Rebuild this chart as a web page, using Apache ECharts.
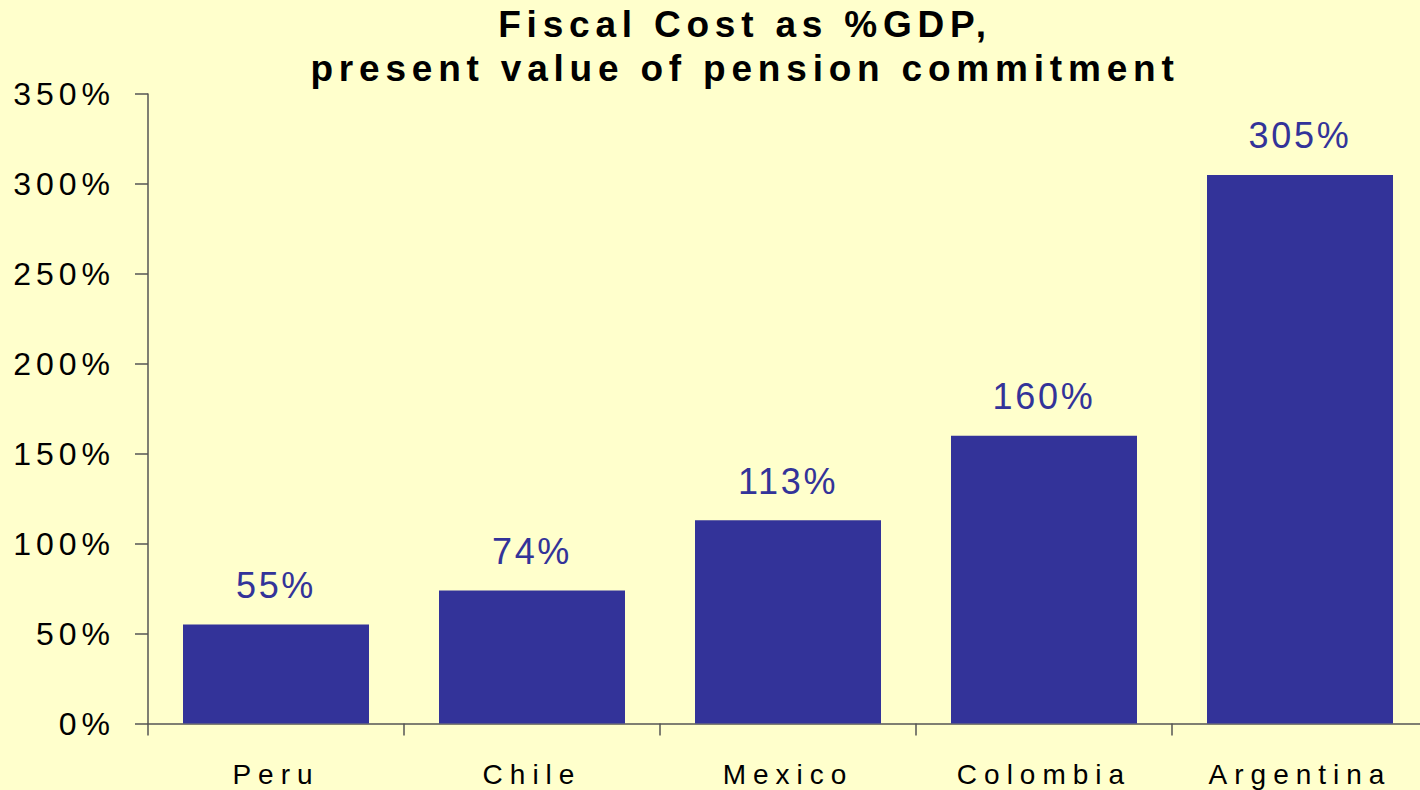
<!DOCTYPE html>
<html>
<head>
<meta charset="utf-8">
<script src="https://cdn.jsdelivr.net/npm/echarts@6/dist/echarts.min.js"></script>
<style>
  html, body { margin: 0; padding: 0; background: #FFFFCC; }
  #chart { width: 1420px; height: 790px; }
  /* spaced-out lettering as in the reference */
  #chart text[style*="36px"] { letter-spacing: 2.7px; }
  #chart text[style*="37px"] { letter-spacing: 5.8px; }
  #chart text[style*="32px"] { letter-spacing: 5px; }
  #chart text[style*="28px"] { letter-spacing: 7px; }
</style>
</head>
<body>
<div id="chart"></div>
<script>
const titleLines = ['Fiscal Cost as %GDP,', 'present value of pension commitment'];
const categories = ['Peru', 'Chile', 'Mexico', 'Colombia', 'Argentina'];
const fiscalCost = [55, 74, 113, 160, 305];
const yTicks = { min: 0, max: 350, interval: 50 };

const FONT = '"Liberation Sans", Arial, sans-serif';
const chart = echarts.init(document.getElementById('chart'), null, { renderer: 'svg' });
chart.setOption({
  backgroundColor: '#FFFFCC',
  animation: false,
  title: {
    text: titleLines.join('\n'),
    left: 745,
    top: 2,
    padding: 0,
    textAlign: 'center',
    textStyle: {
      fontFamily: FONT,
      fontWeight: 'bold',
      fontSize: 37,
      lineHeight: 44,
      color: '#000'
    }
  },
  grid: { left: 148, top: 94, bottom: 66.5, width: 1280, containLabel: false, outerBoundsMode: 'none' },
  xAxis: {
    type: 'category',
    data: categories,
    axisLine: { lineStyle: { color: '#555', width: 1.5 } },
    axisTick: { show: true, length: 12, lineStyle: { color: '#555', width: 1.5 } },
    axisLabel: { fontFamily: FONT, fontSize: 28, color: '#000', margin: 37 },
    splitLine: { show: false }
  },
  yAxis: {
    type: 'value',
    min: yTicks.min,
    max: yTicks.max,
    interval: yTicks.interval,
    axisLine: { show: true, lineStyle: { color: '#555', width: 1.5 } },
    axisTick: { show: true, length: 13, lineStyle: { color: '#555', width: 1.5 } },
    axisLabel: { fontFamily: FONT, fontSize: 32, color: '#000', margin: 33, formatter: '{value}%' },
    splitLine: { show: false }
  },
  series: [{
    type: 'bar',
    data: fiscalCost,
    barWidth: 186,
    itemStyle: { color: '#333399' },
    label: {
      show: true,
      position: 'top',
      distance: 21,
      formatter: '{c}%',
      fontFamily: FONT,
      fontSize: 36,
      color: '#333399'
    }
  }]
});
</script>
</body>
</html>
